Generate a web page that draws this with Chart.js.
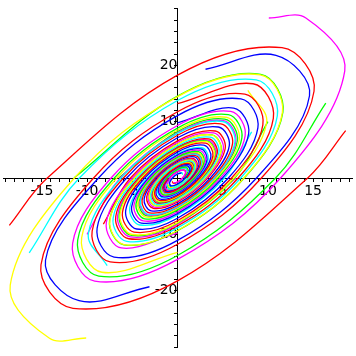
<!DOCTYPE html>
<html>
<head>
<meta charset="utf-8">
<script src="https://cdn.jsdelivr.net/npm/chart.js@4/dist/chart.umd.min.js"></script>
<style>
  html, body { margin: 0; padding: 0; background: #fff; }
</style>
</head>
<body>
<canvas id="phase" width="356" height="356"></canvas>
<script>
// trajectories as [x, y] points (every 45 degrees of turn)
const red1 = [[18.6,8.4],[14.40,0],[0,-18.25],[-11.56,-23.12],[-15.1,-15.4],[-9.28,0],[0,11.76],[7.45,14.90],[9.44,9.44],[5.98,0],[0,-7.58],[-4.80,-9.60],[-6.09,-6.09],[-3.85,0],[0,4.89],[3.10,6.19],[3.92,3.92],[2.48,0],[0,-3.15],[-1.99,-3.99],[-2.53,-2.53],[-1.60,0],[0,2.03],[1.29,2.57],[1.63,1.63],[1.03,0]];
const red2 = [[-18.6,-8.4],[-14.40,0],[0,18.25],[11.56,23.12],[15.1,15.4],[9.28,0],[0,-11.76],[-7.45,-14.90],[-9.44,-9.44],[-5.98,0],[0,7.58],[4.80,9.60],[6.09,6.09],[3.85,0],[0,-4.89],[-3.10,-6.19],[-3.92,-3.92],[-2.48,0],[0,3.15],[1.99,3.99],[2.53,2.53],[1.60,0],[0,-2.03],[-1.29,-2.57],[-1.63,-1.63],[-1.03,0]];
const green1 = [[16.4,13.3],[10.85,0],[0,-13.75],[-8.71,-17.42],[-11.04,-11.04],[-6.99,0],[0,8.86],[5.61,11.23],[7.12,7.12],[4.51,0],[0,-5.71],[-3.62,-7.24],[-4.59,-4.59],[-2.91,0],[0,3.68],[2.33,4.67],[2.96,2.96],[1.87,0],[0,-2.37],[-1.51,-3.01],[-1.91,-1.91],[-1.21,0],[0,1.53],[0.97,1.94],[1.23,1.23]];
const cyan1 = [[-16.4,-13.3],[-10.85,0],[0,13.75],[8.71,17.42],[11.04,11.04],[6.99,0],[0,-8.86],[-5.61,-11.23],[-7.12,-7.12],[-4.51,0],[0,5.71],[3.62,7.24],[4.59,4.59],[2.91,0],[0,-3.68],[-2.33,-4.67],[-2.96,-2.96],[-1.87,0],[0,2.37],[1.51,3.01],[1.91,1.91],[1.21,0],[0,-1.53],[-0.97,-1.94],[-1.23,-1.23]];
const magenta1 = [[10.1,28.4],[14.20,28.41],[18.5,19.0],[11.40,0],[0,-14.45],[-9.16,-18.31],[-11.60,-11.60],[-7.35,0],[0,9.31],[5.90,11.81],[7.48,7.48],[4.74,0],[0,-6.00],[-3.80,-7.61],[-4.82,-4.82],[-3.05,0],[0,3.87],[2.45,4.91],[3.11,3.11],[1.97,0],[0,-2.49],[-1.58,-3.15],[-2.00,-2.00],[-1.27,0],[0,1.61],[1.02,2.04]];
const yellow1 = [[-10.1,-28.4],[-14.20,-28.41],[-18.5,-19.0],[-11.40,0],[0,14.45],[9.16,18.31],[11.60,11.60],[7.35,0],[0,-9.31],[-5.90,-11.81],[-7.48,-7.48],[-4.74,0],[0,6.00],[3.80,7.61],[4.82,4.82],[3.05,0],[0,-3.87],[-2.45,-4.91],[-3.11,-3.11],[-1.97,0],[0,2.49],[1.58,3.15],[2.00,2.00],[1.27,0],[0,-1.61],[-1.02,-2.04]];
const blue1 = [[3.1,19.3],[10.89,21.78],[14.6,14.6],[8.74,0],[0,-11.08],[-7.02,-14.04],[-8.89,-8.89],[-5.63,0],[0,7.14],[4.52,9.05],[5.73,5.73],[3.63,0],[0,-4.60],[-2.91,-5.83],[-3.69,-3.69],[-2.34,0],[0,2.97],[1.88,3.76],[2.38,2.38],[1.51,0],[0,-1.91],[-1.21,-2.42],[-1.53,-1.53],[-0.97,0]];
const blue2 = [[-3.1,-19.3],[-10.89,-21.78],[-14.6,-14.6],[-8.74,0],[0,11.08],[7.02,14.04],[8.89,8.89],[5.63,0],[0,-7.14],[-4.52,-9.05],[-5.73,-5.73],[-3.63,0],[0,4.60],[2.91,5.83],[3.69,3.69],[2.34,0],[0,-2.97],[-1.88,-3.76],[-2.38,-2.38],[-1.51,0],[0,1.91],[1.21,2.42],[1.53,1.53],[0.97,0]];
const green2 = [[-11.45,0],[0,14.52],[9.20,18.40],[11.65,11.65],[7.38,0],[0,-9.36],[-5.92,-11.85],[-7.51,-7.51],[-4.76,0],[0,6.03],[3.82,7.64],[4.84,4.84],[3.07,0],[0,-3.89],[-2.46,-4.92],[-3.12,-3.12],[-1.98,0],[0,2.50],[1.58,3.17],[2.01,2.01],[1.27,0],[0,-1.61],[-1.03,-2.05]];
const blue3 = [[0,9.80],[6.21,12.42],[7.87,7.87],[4.98,0],[0,-6.32],[-4.00,-8.00],[-5.07,-5.07],[-3.21,0],[0,4.07],[2.58,5.16],[3.27,3.27],[2.07,0],[0,-2.62],[-1.66,-3.32],[-2.11,-2.11],[-1.34,0],[0,1.69],[1.07,2.15],[1.36,1.36],[0.86,0],[0,-1.09],[-0.69,-1.38],[-0.88,-0.88],[-0.55,0],[0,0.70],[0.44,0.89]];
const magenta2 = [[0,-9.80],[-6.21,-12.42],[-7.87,-7.87],[-4.98,0],[0,6.32],[4.00,8.00],[5.07,5.07],[3.21,0],[0,-4.07],[-2.58,-5.16],[-3.27,-3.27],[-2.07,0],[0,2.62],[1.66,3.32],[2.11,2.11],[1.34,0],[0,-1.69],[-1.07,-2.15],[-1.36,-1.36],[-0.86,0],[0,1.09],[0.69,1.38],[0.88,0.88],[0.55,0],[0,-0.70],[-0.44,-0.89]];
const cyan2 = [[8.20,8.20],[5.20,0],[0,-6.58],[-4.17,-8.34],[-5.28,-5.28],[-3.34,0],[0,4.24],[2.69,5.37],[3.41,3.41],[2.16,0],[0,-2.73],[-1.73,-3.46],[-2.20,-2.20],[-1.39,0],[0,1.76],[1.12,2.23],[1.42,1.42],[0.90,0],[0,-1.14],[-0.72,-1.44],[-0.92,-0.92],[-0.58,0],[0,0.74],[0.47,0.93],[0.59,0.59]];
const red3 = [[-8.20,-8.20],[-5.20,0],[0,6.58],[4.17,8.34],[5.28,5.28],[3.34,0],[0,-4.24],[-2.69,-5.37],[-3.41,-3.41],[-2.16,0],[0,2.73],[1.73,3.46],[2.20,2.20],[1.39,0],[0,-1.76],[-1.12,-2.23],[-1.42,-1.42],[-0.90,0],[0,1.14],[0.72,1.44],[0.92,0.92],[0.58,0],[0,-0.74],[-0.47,-0.93],[-0.59,-0.59]];
const yellow2 = [[7.78,15.56],[9.86,9.86],[6.24,0],[0,-7.91],[-5.01,-10.03],[-6.35,-6.35],[-4.02,0],[0,5.10],[3.23,6.46],[4.09,4.09],[2.59,0],[0,-3.29],[-2.08,-4.16],[-2.64,-2.64],[-1.67,0],[0,2.12],[1.34,2.69],[1.70,1.70],[1.07,0],[0,-1.37],[-0.86,-1.73],[-1.10,-1.10]];
const cyan3 = [[-7.78,-15.56],[-9.86,-9.86],[-6.24,0],[0,7.91],[5.01,10.03],[6.35,6.35],[4.02,0],[0,-5.10],[-3.23,-6.46],[-4.09,-4.09],[-2.59,0],[0,3.29],[2.08,4.16],[2.64,2.64],[1.67,0],[0,-2.12],[-1.34,-2.69],[-1.70,-1.70],[-1.07,0],[0,1.37],[0.86,1.73],[1.10,1.10]];
const green3 = [[10.0,10.0],[6.33,0],[0,-8.03],[-5.08,-10.17],[-6.45,-6.45],[-4.08,0],[0,5.17],[3.28,6.56],[4.15,4.15],[2.63,0],[0,-3.33],[-2.11,-4.23],[-2.68,-2.68],[-1.70,0],[0,2.15],[1.36,2.73],[1.73,1.73],[1.10,0],[0,-1.39],[-0.88,-1.75],[-1.11,-1.11]];
const magenta3 = [[-10.0,-10.0],[-6.33,0],[0,8.03],[5.08,10.17],[6.45,6.45],[4.08,0],[0,-5.17],[-3.28,-6.56],[-4.15,-4.15],[-2.63,0],[0,3.33],[2.11,4.23],[2.68,2.68],[1.70,0],[0,-2.15],[-1.36,-2.73],[-1.73,-1.73],[-1.10,0],[0,1.39],[0.88,1.75],[1.11,1.11]];
const red4 = [[0,13.2],[8.36,16.73],[10.60,10.60],[6.71,0],[0,-8.51],[-5.39,-10.78],[-6.83,-6.83],[-4.33,0],[0,5.48],[3.47,6.94],[4.40,4.40],[2.79,0],[0,-3.53],[-2.24,-4.48],[-2.84,-2.84],[-1.80,0],[0,2.28],[1.44,2.88],[1.83,1.83],[1.16,0],[0,-1.47],[-0.93,-1.87],[-1.18,-1.18]];
const yellow3 = [[0,-13.2],[-8.36,-16.73],[-10.60,-10.60],[-6.71,0],[0,8.51],[5.39,10.78],[6.83,6.83],[4.33,0],[0,-5.48],[-3.47,-6.94],[-4.40,-4.40],[-2.79,0],[0,3.53],[2.24,4.48],[2.84,2.84],[1.80,0],[0,-2.28],[-1.44,-2.88],[-1.83,-1.83],[-1.16,0],[0,1.47],[0.93,1.87],[1.18,1.18]];
const magenta4 = [[6.50,0],[0,-8.24],[-5.22,-10.45],[-6.62,-6.62],[-4.19,0],[0,5.31],[3.37,6.73],[4.27,4.27],[2.70,0],[0,-3.42],[-2.17,-4.34],[-2.75,-2.75],[-1.74,0],[0,2.21],[1.40,2.80],[1.77,1.77],[1.12,0],[0,-1.42],[-0.90,-1.80],[-1.14,-1.14],[-0.72,0]];
const green4 = [[-6.50,0],[0,8.24],[5.22,10.45],[6.62,6.62],[4.19,0],[0,-5.31],[-3.37,-6.73],[-4.27,-4.27],[-2.70,0],[0,3.42],[2.17,4.34],[2.75,2.75],[1.74,0],[0,-2.21],[-1.40,-2.80],[-1.77,-1.77],[-1.12,0],[0,1.42],[0.90,1.80],[1.14,1.14],[0.72,0]];

const xTickLabels = [-15, -10, -5, 0, 5, 10, 15];
const yTickLabels = [-20, -10, 10, 20];

const trajectories = [red1, red2, green1, cyan1, magenta1, yellow1, blue1, blue2, green2, blue3, magenta2, cyan2, red3,
  yellow2, cyan3, green3, magenta3, red4, yellow3, magenta4, green4];
const colors = ['#ff0000', '#ff0000', '#00ff00', '#00ffff', '#ff00ff', '#ffff00', '#0000ff', '#0000ff', '#00ff00', '#0000ff', '#ff00ff', '#00ffff', '#ff0000',
  '#ffff00', '#00ffff', '#00ff00', '#ff00ff', '#ff0000', '#ffff00', '#ff00ff', '#00ff00'];

const axisFont = { family: 'DejaVu Sans', size: 14 };

new Chart(document.getElementById('phase'), {
  type: 'scatter',
  data: {
    datasets: trajectories.map((pts, i) => ({
      data: pts,
      showLine: true,
      borderColor: colors[i],
      borderWidth: 1.3,
      pointRadius: 0,
      tension: 0.37,
      fill: false
    }))
  },
  options: {
    responsive: false,
    animation: false,
    devicePixelRatio: 1,
    layout: { padding: { left: 3, right: 4, top: 3, bottom: 4 } },
    plugins: { legend: { display: false }, tooltip: { enabled: false } },
    scales: {
      x: {
        type: 'linear',
        position: { y: 0 },
        min: -19.3,
        max: 19.3,
        afterFit: s => { s.height = 0; },
        border: { display: true, color: '#000', width: 1 },
        grid: { drawOnChartArea: false, drawTicks: true, tickLength: 3, color: '#000' },
        ticks: {
          stepSize: 1,
          includeBounds: false,
          autoSkip: false,
          maxRotation: 0,
          padding: 2,
          color: '#000',
          font: axisFont,
          callback: v => xTickLabels.includes(v) ? (v === 0 ? '0    ' : String(v)) : ''
        }
      },
      y: {
        type: 'linear',
        position: { x: 0 },
        min: -30.1,
        max: 30.1,
        afterFit: s => { s.width = 0; },
        border: { display: true, color: '#000', width: 1 },
        grid: { drawOnChartArea: false, drawTicks: true, tickLength: 3, color: '#000' },
        ticks: {
          stepSize: 2,
          includeBounds: false,
          autoSkip: false,
          padding: 0,
          color: '#000',
          font: axisFont,
          callback: v => yTickLabels.includes(v) ? String(v) : ''
        }
      }
    }
  }
});
</script>
</body>
</html>
